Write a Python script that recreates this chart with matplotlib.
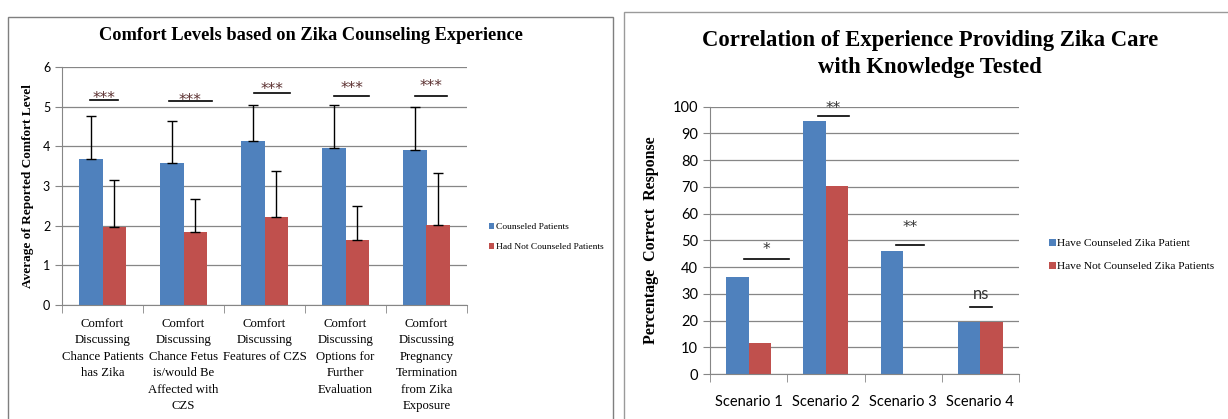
import matplotlib
matplotlib.use("Agg")
import matplotlib.pyplot as plt
import matplotlib.transforms as mtransforms
import numpy as np
from matplotlib.patches import Rectangle

# left chart: comfort levels
comfort_cats = [
    "Comfort\nDiscussing\nChance Patients\nhas Zika",
    "Comfort\nDiscussing\nChance Fetus\nis/would Be\nAffected with\nCZS",
    "Comfort\nDiscussing\nFeatures of CZS",
    "Comfort\nDiscussing\nOptions for\nFurther\nEvaluation",
    "Comfort\nDiscussing\nPregnancy\nTermination\nfrom Zika\nExposure",
]
counseled_mean = [3.67, 3.57, 4.14, 3.95, 3.90]
counseled_err = [1.10, 1.07, 0.91, 1.10, 1.09]
not_counseled_mean = [1.96, 1.83, 2.23, 1.65, 2.02]
not_counseled_err = [1.18, 0.85, 1.16, 0.85, 1.30]
comfort_sig = ["***", "***", "***", "***", "***"]
comfort_sig_line = [5.16, 5.14, 5.35, 5.26, 5.26]
comfort_sig_text = [5.31, 5.25, 5.54, 5.56, 5.61]
comfort_sig_span = [(-0.15, 0.19), (-0.18, 0.35), (-0.13, 0.31), (-0.14, 0.29), (-0.14, 0.25)]

# right chart: knowledge tested
scenarios = ["Scenario 1", "Scenario 2", "Scenario 3", "Scenario 4"]
have_counseled = [36.4, 94.8, 46.1, 19.3]
have_not_counseled = [11.7, 70.4, 0, 19.3]
knowledge_sig = ["*", "**", "**", "ns"]
knowledge_sig_line = [42.9, 96.4, 48.3, 25.0]
knowledge_sig_text = [48.0, 100.6, 56.1, 29.9]
knowledge_sig_span = [(-0.06, 0.52), (-0.10, 0.30), (-0.09, 0.27), (-0.14, 0.15)]

BLUE = "#4F81BD"
RED = "#C0504D"
GRID = "#868686"
SERIF = "Liberation Serif"
SANS = "Lato"

W, H = 1228, 419
fig = plt.figure(figsize=(W / 100, H / 100), dpi=100)

# panel frames
fig.add_artist(Rectangle((8 / W, -0.05), 605 / W, (H - 17) / H + 0.05, transform=fig.transFigure,
                         fill=False, edgecolor="#7f7f7f", lw=1.0))
fig.add_artist(Rectangle((624 / W, -0.05), 620 / W, (H - 12) / H + 0.05, transform=fig.transFigure,
                         fill=False, edgecolor="#9a9a9a", lw=1.0))


def style_axes(ax, ncat, ymax, ystep):
    ax.set_xlim(-0.5, ncat - 0.5)
    ax.set_ylim(0, ymax)
    ax.set_yticks(np.arange(0, ymax + 0.1, ystep))
    ax.set_xticks(np.arange(-0.5, ncat), minor=True)
    ax.grid(axis="y", color=GRID, lw=0.9)
    ax.set_axisbelow(True)
    for s in ["top", "right"]:
        ax.spines[s].set_visible(False)
    for s in ["left", "bottom"]:
        ax.spines[s].set_color(GRID)
    ax.tick_params(axis="x", which="major", length=0)
    ax.tick_params(axis="x", which="minor", length=6, color=GRID, direction="out")
    ax.tick_params(axis="y", length=5, color=GRID)


def sig_marks(ax, labels, line_y, text_y, spans, color):
    # star glyphs sit high above the baseline, so shift the baseline down
    shift = mtransforms.offset_copy(ax.transData, fig=fig, y=-6, units="points")
    for i, (lab, ly, ty, (a, b)) in enumerate(zip(labels, line_y, text_y, spans)):
        ax.plot([i + a, i + b], [ly, ly], color="black", lw=1.2, clip_on=False)
        if lab == "ns":
            ax.text(i + (a + b) / 2, ty, lab, ha="center", va="center", fontsize=12,
                    color="#333333", family=SANS)
        else:
            ax.text(i + (a + b) / 2, ty, lab, ha="center", va="baseline", fontsize=11,
                    color=color, family="DejaVu Sans", transform=shift)


# ---- left chart ----
ax1 = fig.add_axes([62 / W, (H - 305) / H, 405 / W, 238 / H])
x = np.arange(len(comfort_cats))
bw = 0.29
ekw = dict(ecolor="black", lw=1, capsize=3.5, capthick=1)
ax1.bar(x - bw / 2, counseled_mean, bw, color=BLUE, label="Counseled Patients",
        yerr=[np.zeros(len(x)), counseled_err], error_kw=ekw)
ax1.bar(x + bw / 2, not_counseled_mean, bw, color=RED, label="Had Not Counseled Patients",
        yerr=[np.zeros(len(x)), not_counseled_err], error_kw=ekw)
style_axes(ax1, len(comfort_cats), 6, 1)
ax1.set_xticks(x)
ax1.set_xticklabels(comfort_cats, family=SERIF, fontsize=9.2, linespacing=1.5, va="top")
ax1.tick_params(axis="x", which="major", pad=9)
for lab in ax1.get_yticklabels():
    lab.set_family(SANS)
    lab.set_fontsize(9)
ax1.set_ylabel("Average of Reported Comfort Level", family=SERIF, fontweight="bold", fontsize=9.5, labelpad=6)
sig_marks(ax1, comfort_sig, comfort_sig_line, comfort_sig_text, comfort_sig_span, "#5b3030")
ax1.legend(loc="center left", bbox_to_anchor=(484 / W, (H - 237) / H), bbox_transform=fig.transFigure,
           frameon=False, prop={"family": SERIF, "size": 6.8}, handlelength=0.6, handleheight=0.6,
           handletextpad=0.15, labelspacing=1.2, borderpad=0)
fig.text(311 / W, (H - 35) / H, "Comfort Levels based on Zika Counseling Experience", ha="center", va="center",
         family=SERIF, fontweight="bold", fontsize=13.2)

# ---- right chart ----
ax2 = fig.add_axes([710 / W, (H - 374) / H, 309 / W, 267.3 / H])
x2 = np.arange(len(scenarios))
ax2.bar(x2 - bw / 2, have_counseled, bw, color=BLUE, label="Have Counseled Zika Patient")
ax2.bar(x2 + bw / 2, have_not_counseled, bw, color=RED, label="Have Not Counseled Zika Patients")
style_axes(ax2, len(scenarios), 100, 10)
ax2.set_xticks(x2)
ax2.set_xticklabels(scenarios, family=SANS, fontsize=10.5)
ax2.tick_params(axis="x", which="major", pad=15)
for lab in ax2.get_yticklabels():
    lab.set_family(SANS)
    lab.set_fontsize(10.5)
ax2.set_ylabel("Percentage  Correct  Response", family=SERIF, fontweight="bold", fontsize=11.5, labelpad=10)
sig_marks(ax2, knowledge_sig, knowledge_sig_line, knowledge_sig_text, knowledge_sig_span, "#333333")
ax2.legend(loc="center left", bbox_to_anchor=(1043 / W, (H - 255) / H), bbox_transform=fig.transFigure,
           frameon=False, prop={"family": SERIF, "size": 8.2}, handlelength=0.6, handleheight=0.6,
           handletextpad=0.1, labelspacing=1.2, borderpad=0)
fig.text(930 / W, (H - 54) / H, "Correlation of Experience Providing Zika Care\nwith Knowledge Tested",
         ha="center", va="center", family=SERIF, fontweight="bold", fontsize=16.3, linespacing=1.35)

fig.savefig("out.png", dpi=100)
